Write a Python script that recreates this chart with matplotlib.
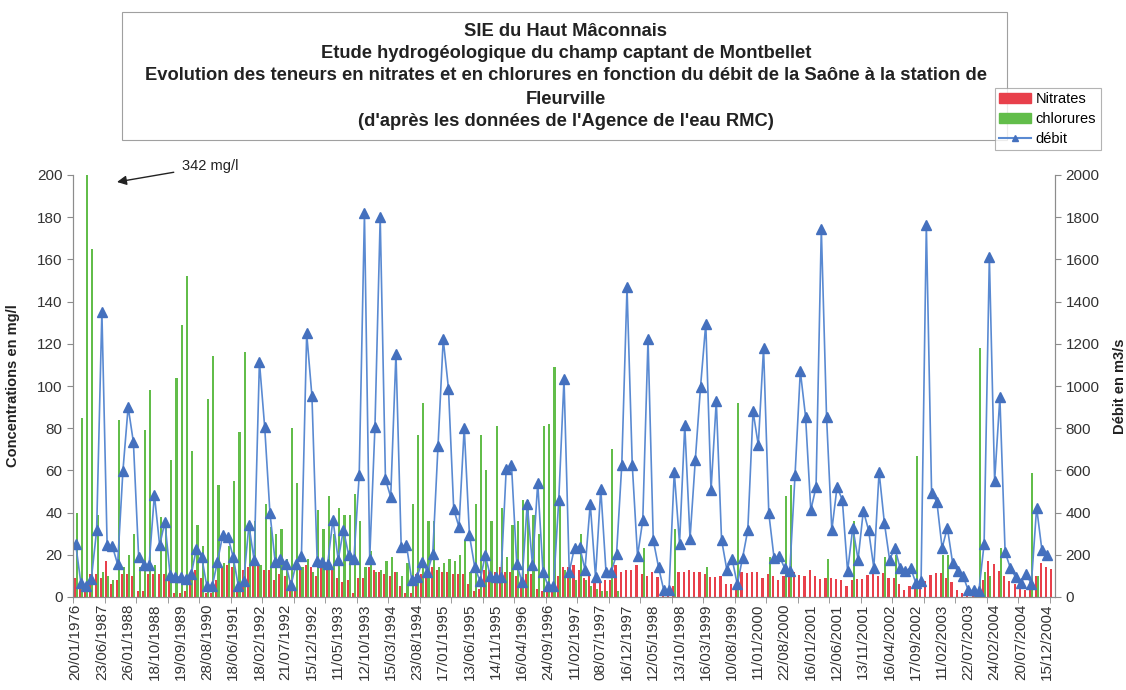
import numpy as np
import matplotlib
matplotlib.use("Agg")
import matplotlib.pyplot as plt
from matplotlib.patches import Rectangle, Patch
from matplotlib.lines import Line2D

plt.rcParams['font.family'] = ['Liberation Sans', 'DejaVu Sans']

# tick labels, one every 5 samples
date_labels = [
    "20/01/1976", "23/06/1987", "26/01/1988", "18/10/1988", "19/09/1989",
    "28/08/1990", "18/06/1991", "18/02/1992", "21/07/1992", "15/12/1992",
    "11/05/1993", "12/10/1993", "15/03/1994", "23/08/1994", "17/01/1995",
    "13/06/1995", "14/11/1995", "16/04/1996", "24/09/1996", "11/02/1997",
    "08/07/1997", "16/12/1997", "12/05/1998", "13/10/1998", "16/03/1999",
    "10/08/1999", "11/01/2000", "22/08/2000", "16/01/2001", "12/06/2001",
    "13/11/2001", "16/04/2002", "17/09/2002", "11/02/2003", "22/07/2003",
    "24/02/2004", "20/07/2004", "15/12/2004",
]

# mg/l
nitrates = [
    9, 7, 3, 11, 11, 9, 17, 6, 8, 11,
    11, 10, 3, 3, 11, 11, 11, 11, 9, 2,
    2, 3, 10, 13, 9, 2, 2, 8, 14, 15,
    14, 3, 13, 14, 15, 16, 13, 13, 8, 11,
    10, 8, 3, 14, 15, 14, 10, 15, 13, 13,
    9, 7, 8, 2, 9, 9, 14, 13, 12, 11,
    10, 12, 5, 2, 2, 11, 11, 11, 14, 13,
    12, 12, 11, 11, 11, 6, 3, 4, 13, 13,
    12, 14, 12, 12, 10, 9, 11, 11, 4, 3,
    4, 5, 10, 14, 14, 15, 13, 9, 10, 8,
    7, 8, 8, 15, 12, 13, 13, 15, 11, 10,
    12, 9.5, 4, 4, 5, 12, 12, 13, 12, 12,
    11, 9.5, 9.5, 10, 6, 6, 5, 12, 11.5, 12,
    12, 9, 11, 10, 8, 10, 10.5, 12, 10.5, 10,
    13, 10, 8.5, 9, 9, 8.5, 8, 5, 8, 8.5,
    8.5, 10.5, 12, 10, 11.5, 9, 9, 6, 3.5, 5,
    5.5, 7.5, 7.5, 10.5, 11.5, 11.5, 9, 7, 3.5, 2,
    1, 0.5, 0.5, 8, 17, 15.5, 12.5, 10, 7.5, 6,
    5, 3.5, 7, 10, 16, 14, 13.5,
]

chlorures = [
    40, 85, 342, 165, 39, 12, 10, 8, 84, 14,
    20, 30, 14, 79, 98, 15, 38, 36, 65, 104,
    129, 152, 69, 34, 24, 94, 114, 53, 16, 24,
    55, 78, 116, 32, 36, 15, 44, 33, 30, 32,
    18, 80, 54, 14, 18, 12, 41, 32, 48, 30,
    42, 39, 39, 49, 36, 14, 22, 12, 13, 17,
    19, 12, 10, 16, 44, 77, 92, 36, 36, 14,
    16, 18, 17, 20, 27, 12, 44, 77, 60, 36,
    81, 42, 19, 34, 36, 46, 46, 39, 30, 81,
    82, 109, 47, 13, 10, 8, 30, 8, 5, 4,
    3, 3, 70, 3, 0, 0, 0, 0, 23, 0,
    0, 0, 0, 0, 32, 0, 0, 0, 0, 0,
    14, 0, 0, 0, 0, 0, 92, 0, 0, 0,
    0, 0, 19, 0, 0, 48, 53, 0, 0, 0,
    0, 0, 0, 18, 0, 0, 0, 0, 36, 0,
    0, 0, 0, 0, 19, 0, 20, 0, 0, 0,
    67, 0, 0, 0, 0, 20, 20, 0, 0, 0,
    0, 0, 118, 12, 10, 0, 23, 0, 0, 0,
    0, 0, 59, 10, 0, 0, 0,
]

# m3/s
debit = [
    253, 66, 50, 87, 316, 1352, 245, 240, 155, 596,
    901, 734, 190, 153, 153, 485, 245, 356, 103, 95,
    95, 87, 107, 229, 190, 50, 50, 166, 292, 285,
    190, 50, 76, 340, 174, 1115, 806, 400, 166, 182,
    158, 55, 158, 194, 1249, 952, 169, 166, 158, 367,
    177, 319, 198, 182, 577, 1818, 182, 806, 1799, 558,
    474, 1154, 237, 245, 82, 95, 166, 119, 202, 715,
    1222, 988, 416, 332, 803, 292, 142, 76, 198, 98,
    95, 95, 609, 625, 158, 71, 443, 150, 541, 119,
    50, 50, 458, 1032, 119, 234, 237, 130, 443, 95,
    514, 119, 119, 202, 625, 1467, 625, 194, 364, 1222,
    269, 142, 32, 32, 593, 253, 814, 277, 648, 996,
    1296, 506, 930, 272, 130, 182, 60, 185, 317, 880,
    720, 1180, 397, 185, 193, 138, 122, 580, 1071, 855,
    412, 522, 1746, 852, 317, 522, 460, 122, 329, 177,
    409, 317, 138, 593, 353, 177, 232, 138, 122, 138,
    67, 75, 1762, 491, 452, 232, 329, 162, 122, 99,
    31, 31, 28, 251, 1612, 549, 946, 212, 138, 94,
    67, 107, 63, 424, 224, 201, np.nan,
]

RED = '#E8404B'
GREEN = '#62BD4A'
BLUE = '#5A8AD2'
BLUE_MK = '#4470BE'
AXIS = '#8C8C8C'

N = len(nitrates)
x = np.arange(N)
W, H = 1126, 690

fig = plt.figure(figsize=(W / 100, H / 100), dpi=100)
ax = fig.add_axes([73 / W, 1 - 597 / H, (1055 - 73) / W, (597 - 175) / H])

w = 0.4
ax.bar(x - w / 2, nitrates, w, color=RED, linewidth=0)
ax.bar(x + w / 2, chlorures, w, color=GREEN, linewidth=0)
ax.set_xlim(-0.5, N - 0.5)
ax.set_ylim(0, 200)
ax.set_yticks(np.arange(0, 201, 20))

ax2 = ax.twinx()
ax2.plot(x, debit, color=BLUE, lw=1.2, marker='^', ms=6.5,
         mfc=BLUE_MK, mec=BLUE_MK)
ax2.set_ylim(0, 2000)
ax2.set_yticks(np.arange(0, 2001, 200))

for a in (ax, ax2):
    a.spines['top'].set_visible(False)
    for s in ('left', 'right', 'bottom'):
        a.spines[s].set_color(AXIS)
    a.tick_params(axis='y', colors=AXIS, labelcolor='#333333',
                  labelsize=11, length=4)

# labels every 5 categories, tick marks every 6 on category boundaries
ax.set_xticks(x[::5])
ax.set_xticklabels(date_labels, rotation=90, fontsize=11, color='#333333')
ax.tick_params(axis='x', which='major', length=0, pad=5)
ax.set_xticks(np.arange(-0.5, N, 6), minor=True)
ax.tick_params(axis='x', which='minor', length=4, color=AXIS)

ax.set_ylabel('Concentrations en mg/l', fontsize=10.5, fontweight='bold',
              color='#222222', labelpad=12)
ax2.set_ylabel('Débit en m3/s', fontsize=10.5, fontweight='bold',
               color='#222222', labelpad=10)

# title box
fig.patches.append(Rectangle((122 / W, 1 - 140 / H), (1007 - 122) / W, 128 / H,
                             transform=fig.transFigure, fill=False,
                             edgecolor='#A0A0A0', lw=0.8))
title_lines = [
    "SIE du Haut Mâconnais",
    "Etude hydrogéologique du champ captant de Montbellet",
    "Evolution des teneurs en nitrates et en chlorures en fonction du débit de la Saône à la station de",
    "Fleurville",
    "(d'après les données de l'Agence de l'eau RMC)",
]
for line, yp in zip(title_lines, [31, 53, 76, 99, 122]):
    fig.text(566 / W, 1 - yp / H, line, ha='center', va='center',
             fontsize=13.2, fontweight='bold', color='#222222')

handles = [Patch(color=RED), Patch(color=GREEN),
           Line2D([], [], color=BLUE, marker='^', ms=5, mfc=BLUE_MK, mec=BLUE_MK)]
leg = fig.legend(handles, ['Nitrates', 'chlorures', 'débit'],
                 loc='upper left', bbox_to_anchor=(995 / W, 1 - 88 / H),
                 fontsize=10.5, frameon=True, fancybox=False, borderpad=0.3,
                 handlelength=2.2, handletextpad=0.3, labelspacing=0.4,
                 borderaxespad=0)
leg.get_frame().set_edgecolor('#A0A0A0')
leg.get_frame().set_linewidth(0.8)

ax.annotate('342 mg/l', xy=(117, H - 182), xycoords='figure pixels',
            xytext=(182, H - 166), textcoords='figure pixels',
            fontsize=10.5, va='center', color='#222222',
            arrowprops=dict(arrowstyle='-|>', color='#222222', lw=1,
                            shrinkA=4, shrinkB=0, mutation_scale=14))

fig.savefig('out.png', dpi=100)
